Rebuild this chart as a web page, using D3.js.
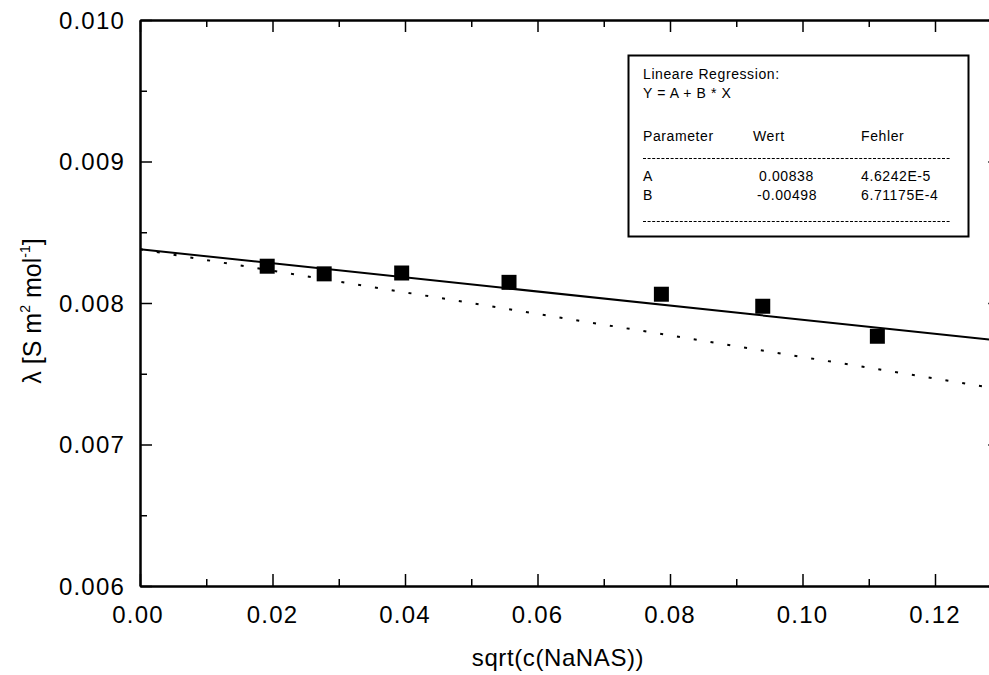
<!DOCTYPE html>
<html>
<head>
<meta charset="utf-8">
<script src="https://cdn.jsdelivr.net/npm/d3@7"></script>
<style>
  body { margin: 0; background: #fff; }
  svg { display: block; font-family: "Liberation Sans", Arial, sans-serif; }
</style>
</head>
<body>
<div id="chart"></div>
<script>
// measured points: sqrt(c) vs molar conductivity
var sqrtC = [0.0192, 0.0278, 0.0395, 0.0557, 0.0787, 0.0940, 0.1113]
var lambda = [0.00826, 0.008206, 0.008212, 0.008146, 0.008062, 0.007977, 0.007765]

// linear regression parameters (shown in the box)
var paramA = 0.00838
var paramB = -0.00498
var fitX = [0, 0.13]

// dotted comparison line (end points)
var dottedX = [0, 0.13]
var dottedY = [0.00838, 0.00739]

var xTicks = [0, 0.02, 0.04, 0.06, 0.08, 0.10, 0.12]
var xMinor = [0.01, 0.03, 0.05, 0.07, 0.09, 0.11, 0.13]
var yTicks = [0.006, 0.007, 0.008, 0.009, 0.010]
var yMinor = [0.0065, 0.0075, 0.0085, 0.0095]

var boxTitle = ["Lineare Regression:", "Y = A + B * X"]
var boxHeader = ["Parameter", "Wert", "Fehler"]
var boxRows = [
    ["A", " 0.00838", "4.6242E-5"],
    ["B", "-0.00498", "6.71175E-4"]
]

var width = 989
var height = 675

var x = d3.scaleLinear().domain([0, 0.13]).range([140, 1001.25])
var y = d3.scaleLinear().domain([0.006, 0.010]).range([586, 20])

var svg = d3.select("#chart").append("svg")
    .attr("width", width)
    .attr("height", height)

// frame axes, ticks pointing inward
function styleAxis(g) {
    g.select(".domain").attr("stroke", "#000").attr("stroke-width", 2)
    g.selectAll(".tick line").attr("stroke", "#000").attr("stroke-width", 1.5)
    g.selectAll(".tick text").remove()
}

svg.append("g").attr("transform", "translate(0,586)")
    .call(d3.axisBottom(x).tickValues(xTicks).tickSize(-12).tickSizeOuter(0))
    .call(styleAxis)
svg.append("g").attr("transform", "translate(0,586)")
    .call(d3.axisBottom(x).tickValues(xMinor).tickSize(-7).tickSizeOuter(0))
    .call(styleAxis)
svg.append("g").attr("transform", "translate(0,20)")
    .call(d3.axisTop(x).tickValues(xTicks).tickSize(-12).tickSizeOuter(0))
    .call(styleAxis)
svg.append("g").attr("transform", "translate(0,20)")
    .call(d3.axisTop(x).tickValues(xMinor).tickSize(-7).tickSizeOuter(0))
    .call(styleAxis)
svg.append("g").attr("transform", "translate(140,0)")
    .call(d3.axisLeft(y).tickValues(yTicks).tickSize(-12).tickSizeOuter(0))
    .call(styleAxis)
svg.append("g").attr("transform", "translate(140,0)")
    .call(d3.axisLeft(y).tickValues(yMinor).tickSize(-7).tickSizeOuter(0))
    .call(styleAxis)
svg.append("g").attr("transform", "translate(" + x(0.13) + ",0)")
    .call(d3.axisRight(y).tickValues(yTicks).tickSize(-13).tickSizeOuter(0))
    .call(styleAxis)
svg.append("g").attr("transform", "translate(" + x(0.13) + ",0)")
    .call(d3.axisRight(y).tickValues(yMinor).tickSize(-7).tickSizeOuter(0))
    .call(styleAxis)

// tick labels
svg.append("g").selectAll("text")
    .data(xTicks)
    .join("text")
    .attr("x", function(d) { return x(d) - (d === 0 ? 2 : 0) })
    .attr("y", 623)
    .attr("text-anchor", "middle")
    .attr("font-size", 24)
    .attr("letter-spacing", 1.2)
    .text(function(d) { return d3.format(".2f")(d) })

svg.append("g").selectAll("text")
    .data(yTicks)
    .join("text")
    .attr("x", 125)
    .attr("y", function(d) { return y(d) })
    .attr("dy", "0.36em")
    .attr("text-anchor", "end")
    .attr("font-size", 24)
    .attr("letter-spacing", 1.2)
    .text(function(d) { return d3.format(".3f")(d) })

// axis titles
svg.append("text")
    .attr("x", 558)
    .attr("y", 666)
    .attr("text-anchor", "middle")
    .attr("font-size", 24)
    .attr("letter-spacing", 0.6)
    .text("sqrt(c(NaNAS))")

var yTitle = svg.append("text")
    .attr("transform", "translate(41,311) rotate(-90)")
    .attr("text-anchor", "middle")
    .attr("font-size", 25)
yTitle.append("tspan").text("\u03bb [S m")
yTitle.append("tspan").attr("font-size", 14).attr("dy", -11).text("2")
yTitle.append("tspan").attr("dy", 11).text(" mol")
yTitle.append("tspan").attr("font-size", 14).attr("dy", -11).text("-1")
yTitle.append("tspan").attr("dy", 11).text("]")

// clip to the plotting frame
svg.append("clipPath").attr("id", "plot-clip")
    .append("rect")
    .attr("x", x(0)).attr("y", y(0.010))
    .attr("width", x(0.13) - x(0)).attr("height", y(0.006) - y(0.010))

var plot = svg.append("g").attr("clip-path", "url(#plot-clip)")

var line = d3.line()
    .x(function(d) { return x(d[0]) })
    .y(function(d) { return y(d[1]) })

plot.append("path")
    .datum(dottedX.map(function(d, i) { return [d, dottedY[i]] }))
    .attr("d", line)
    .attr("fill", "none")
    .attr("stroke", "#000")
    .attr("stroke-width", 2)
    .attr("stroke-dasharray", "3,14")

plot.append("path")
    .datum(fitX.map(function(d) { return [d, paramA + paramB * d] }))
    .attr("d", line)
    .attr("fill", "none")
    .attr("stroke", "#000")
    .attr("stroke-width", 2)

var sq = 15
plot.selectAll("rect.pt")
    .data(sqrtC)
    .join("rect")
    .attr("class", "pt")
    .attr("x", function(d) { return x(d) - sq / 2 })
    .attr("y", function(d, i) { return y(lambda[i]) - sq / 2 })
    .attr("width", sq)
    .attr("height", sq)
    .attr("fill", "#000")

// regression box
var box = svg.append("g").attr("font-size", 14).attr("letter-spacing", 0.6)
box.append("rect")
    .attr("x", 628.5).attr("y", 55.5)
    .attr("width", 340).attr("height", 181)
    .attr("fill", "#fff")
    .attr("stroke", "#000")
    .attr("stroke-width", 2)

box.selectAll("text.title")
    .data(boxTitle)
    .join("text")
    .attr("class", "title")
    .attr("x", 643)
    .attr("y", function(d, i) { return 78.5 + i * 19 })
    .text(function(d) { return d })

var colX = [643, 753, 861]
box.selectAll("text.head")
    .data(boxHeader)
    .join("text")
    .attr("class", "head")
    .attr("x", function(d, i) { return colX[i] })
    .attr("y", 141)
    .text(function(d) { return d })

boxRows.forEach(function(row, r) {
    box.selectAll("text.row" + r)
        .data(row)
        .join("text")
        .attr("class", "row" + r)
        .attr("x", function(d, i) { return i === 1 ? (d[0] === " " ? 759 : 757) : colX[i] })
        .attr("y", 181 + r * 18.5)
        .text(function(d) { return d.trim() })
})

;[158.5, 221.5].forEach(function(ly) {
    box.append("line")
        .attr("x1", 643).attr("x2", 950)
        .attr("y1", ly).attr("y2", ly)
        .attr("stroke", "#000")
        .attr("stroke-width", 1)
        .attr("stroke-dasharray", "3,1.6")
})
</script>
</body>
</html>
